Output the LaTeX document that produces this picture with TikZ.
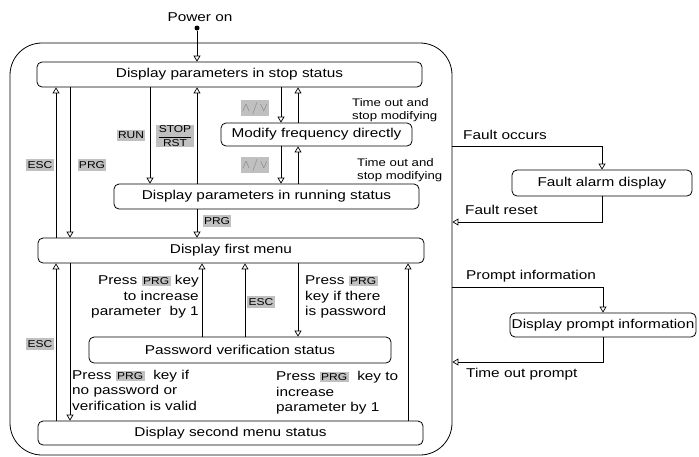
\documentclass[tikz,border=0pt]{standalone}
\usepackage{fontspec}
\setmainfont{Liberation Sans}[FakeStretch=1.2]
\usepackage{xcolor}
\usepackage{tikz}
\usetikzlibrary{arrows.meta, positioning, calc}
\definecolor{keyGray}{RGB}{192, 192, 192}
\definecolor{symGray}{RGB}{120, 120, 120}
\newcommand{\keycap}[1]{{\setlength{\fboxsep}{1.5pt}\colorbox{keyGray}{\fontsize{10}{11}\selectfont #1}}}

\begin{document}
\begin{tikzpicture}[x=1pt, y=-1pt,
    state/.style={draw, rounded corners=5pt, line width=0.8pt, inner sep=0pt, font=\fontsize{12.8}{15}\selectfont},
    keylbl/.style={fill=keyGray, inner xsep=1.2pt, inner ysep=2pt, minimum height=11pt, font=\fontsize{10}{11}\selectfont},
    note/.style={inner sep=0pt, align=left, font=\fontsize{12.8}{15.5}\selectfont},
    smallnote/.style={inner sep=0pt, align=left, font=\fontsize{11}{13}\selectfont},
    flow/.style={line width=0.7pt, -{Triangle[open, length=6pt, width=7pt]}}]
    \useasboundingbox (0,0) rectangle (699,456);

    % Outer frame
    \node[draw, rounded corners=32pt, line width=0.8pt, inner sep=0pt, minimum width=442, minimum height=412] (frame) at (231,249) {};

    % Power on
    \node[inner sep=0pt, font=\fontsize{12.8}{15}\selectfont] (power) at (200,17) {Power on};
    \node[circle, fill, inner sep=0pt, minimum size=5pt] (dot) at (197,28) {};

    % States
    \node[state, minimum width=385, minimum height=25] (stop) at (229.5,74.5) {Display parameters in stop status};
    \node[state, minimum width=191, minimum height=23] (modify) at (316.5,134.5) {Modify frequency directly};
    \node[state, minimum width=305, minimum height=25] (run) at (266.5,196.5) {Display parameters in running status};
    \node[state, minimum width=386, minimum height=25] (first) at (231,250.5) {Display first menu};
    \node[state, minimum width=302, minimum height=26] (pass) at (240,350) {Password verification status};
    \node[state, minimum width=385, minimum height=24] (second) at (230.5,433) {Display second menu status};
    \node[state, minimum width=180, minimum height=26] (fault) at (602,183) {Fault alarm display};
    \node[state, minimum width=186, minimum height=24] (prompt) at (603,325) {Display prompt information};

    % Columns and rows of the connectors
    \coordinate (cEsc) at (56,0);
    \coordinate (cPrg) at (70,0);
    \coordinate (cRun) at (150,0);
    \coordinate (cStop) at (197,0);
    \coordinate (cInc) at (202,0);
    \coordinate (cEscB) at (245,0);
    \coordinate (cDn) at (281,0);
    \coordinate (cUp) at (298,0);
    \coordinate (cIncB) at (408,0);
    \coordinate (rFaultIn) at (0,146);
    \coordinate (rFaultOut) at (0,222);
    \coordinate (rPromptIn) at (0,287);
    \coordinate (rPromptOut) at (0,362);

    % Arrows
    \draw[flow] (dot) -- (stop.north -| dot);
    \draw[flow] (first.north -| cEsc) -- (stop.south -| cEsc);
    \draw[flow] (stop.south -| cPrg) -- (first.north -| cPrg);
    \draw[flow] (stop.south -| cRun) -- (run.north -| cRun);
    \draw[flow] (run.north -| cStop) -- (stop.south -| cStop);
    \draw[flow] (run.south -| cStop) -- (first.north -| cStop);
    \draw[flow] (stop.south -| cDn) -- (modify.north -| cDn);
    \draw[flow] (modify.north -| cUp) -- (stop.south -| cUp);
    \draw[flow] (modify.south -| cDn) -- (run.north -| cDn);
    \draw[flow] (run.north -| cUp) -- (modify.south -| cUp);
    \draw[flow] (second.north -| cEsc) -- (first.south -| cEsc);
    \draw[flow] (first.south -| cPrg) -- (second.north -| cPrg);
    \draw[flow] (pass.north -| cInc) -- (first.south -| cInc);
    \draw[flow] (pass.north -| cEscB) -- (first.south -| cEscB);
    \draw[flow] (first.south -| cUp) -- (pass.north -| cUp);
    \draw[flow] (second.north -| cIncB) -- (first.south -| cIncB);
    \draw[flow] (frame.east |- rFaultIn) -| (fault.north);
    \draw[flow] (fault.south) |- (frame.east |- rFaultOut);
    \draw[flow] (frame.east |- rPromptIn) -| (prompt.north);
    \draw[flow] (prompt.south) |- (frame.east |- rPromptOut);

    % Key labels
    \node[keylbl] (escA) at (40,165) {ESC};
    \node[keylbl] (prgA) at (92,165) {PRG};
    \node[keylbl] (runKey) at (131,135) {RUN};
    \node[keylbl, inner ysep=0.5pt] (stopKey) at (175,136) {$\displaystyle\frac{\mbox{STOP}}{\mbox{RST}}$};
    \node[keylbl, text=symGray, font=\fontsize{12}{13}\selectfont] (updnA) at (255,108) {$\wedge\,/\,\vee$};
    \node[keylbl, text=symGray, font=\fontsize{12}{13}\selectfont] (updnB) at (255,165) {$\wedge\,/\,\vee$};
    \node[keylbl] (prgB) at (217,221) {PRG};
    \node[keylbl] (escB) at (261,302) {ESC};
    \node[keylbl] (escC) at (40,344) {ESC};

    % Notes
    \node[smallnote, anchor=west] (tmoA) at (352,110) {Time out and\\stop modifying};
    \node[smallnote, anchor=west] (tmoB) at (357,170) {Time out and\\stop modifying};
    \node[note, align=right, anchor=east] (incNote) at (199,297) {Press \keycap{PRG} key\\to increase\\parameter\ \ by 1};
    \node[note, anchor=west] (pwNote) at (305,297) {Press \keycap{PRG}\\key if there\\is password};
    \node[note, anchor=west] (validNote) at (72,390) {Press \keycap{PRG}\ \ key if\\no password or\\verification is valid};
    \node[note, anchor=west] (incNoteB) at (276,393) {Press \keycap{PRG}\ \ key to\\increase\\parameter by 1};
    \node[note, anchor=west] (faultOcc) at (463,135) {Fault occurs};
    \node[note, anchor=west] (faultRst) at (465,210) {Fault reset};
    \node[note, anchor=west] (promptInfo) at (466,276) {Prompt information};
    \node[note, anchor=west] (promptOut) at (466,374) {Time out prompt};
\end{tikzpicture}
\end{document}
